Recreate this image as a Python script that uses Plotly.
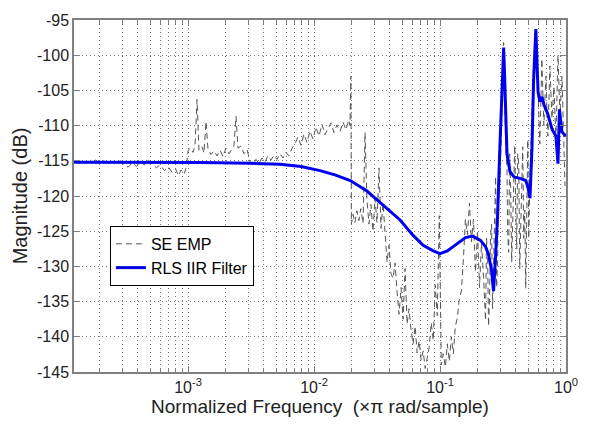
import plotly.graph_objects as go

# ---------------- data ----------------
# SE EMP (empirical secondary path estimate) - normalized frequency (x pi rad/sample)
se_freq = [
    1.25e-4, 1.35e-4, 1.45e-4, 1.55e-4, 1.70e-4, 1.85e-4, 2.00e-4, 2.15e-4, 2.30e-4, 2.50e-4,
    2.70e-4, 2.90e-4, 3.10e-4, 3.35e-4, 3.60e-4, 3.90e-4, 4.20e-4, 4.50e-4, 4.85e-4, 5.20e-4,
    5.60e-4, 6.00e-4, 6.50e-4, 7.00e-4, 7.50e-4, 8.00e-4, 8.40e-4, 8.80e-4, 9.30e-4, 9.70e-4,
    1.000e-3, 1.037e-3, 1.096e-3, 1.136e-3, 1.179e-3, 1.222e-3, 1.291e-3, 1.339e-3, 1.389e-3, 1.441e-3,
    1.523e-3, 1.608e-3, 1.699e-3, 1.795e-3, 1.896e-3, 2.000e-3, 2.115e-3, 2.234e-3, 2.317e-3, 2.403e-3,
    2.493e-3, 2.634e-3, 2.782e-3, 2.940e-3, 3.100e-3, 3.280e-3, 3.460e-3, 3.660e-3, 3.860e-3, 4.080e-3,
    4.310e-3, 4.550e-3, 4.810e-3, 5.080e-3, 5.370e-3, 5.670e-3, 5.990e-3, 6.330e-3, 6.690e-3, 7.060e-3,
    7.460e-3, 7.880e-3, 8.330e-3, 8.790e-3, 9.290e-3, 9.810e-3, 1.036e-2, 1.095e-2, 1.157e-2, 1.222e-2,
    1.290e-2, 1.363e-2, 1.440e-2, 1.520e-2, 1.610e-2, 1.700e-2, 1.790e-2, 1.890e-2, 1.930e-2, 1.960e-2,
    1.980e-2, 2.040e-2, 2.110e-2, 2.190e-2, 2.270e-2, 2.350e-2, 2.450e-2, 2.540e-2, 2.630e-2, 2.730e-2,
    2.830e-2, 2.940e-2, 3.050e-2, 3.160e-2, 3.280e-2, 3.400e-2, 3.530e-2, 3.660e-2, 3.800e-2, 3.940e-2,
    4.080e-2, 4.240e-2, 4.400e-2, 4.560e-2, 4.730e-2, 4.910e-2, 5.090e-2, 5.280e-2, 5.480e-2, 5.680e-2,
    5.900e-2, 6.120e-2, 6.350e-2, 6.580e-2, 6.830e-2, 7.090e-2, 7.350e-2, 7.630e-2, 7.910e-2, 8.210e-2,
    8.520e-2, 8.840e-2, 9.170e-2, 9.510e-2, 9.870e-2, 0.1024, 0.1062, 0.1102, 0.1143, 0.1186,
    0.1230, 0.1276, 0.1324, 0.1374, 0.1425, 0.1479, 0.1534, 0.1591, 0.1651, 0.1713,
    0.1777, 0.1843, 0.1912, 0.1984, 0.2058, 0.2135, 0.2215,
    0.2298, 0.2340, 0.2384, 0.2428, 0.2473, 0.2520, 0.2566, 0.2614, 0.2662, 0.2712,
    0.2762, 0.2813, 0.2865, 0.2918, 0.2972, 0.3084, 0.3199, 0.3319, 0.3400, 0.3443,
    0.3507, 0.3572, 0.3639, 0.3706, 0.3775, 0.3845, 0.3917, 0.3989, 0.4063, 0.4138,
    0.4215, 0.4293, 0.4373, 0.4454, 0.4537, 0.4620, 0.4706, 0.4793, 0.4883, 0.4973,
    0.5066, 0.5159,
    0.5352, 0.5553, 0.5761, 0.5977, 0.6200, 0.6433, 0.6674, 0.6924, 0.7183, 0.7452,
    0.7731, 0.8021, 0.8321, 0.8633, 0.8956, 0.9292, 0.9640, 0.9820,
]
se_mag = [
    -115.2, -115.0, -115.3, -115.1, -115.3, -114.9, -115.3, -115.0, -115.4, -115.1,
    -115.3, -115.0, -115.5, -115.9, -115.3, -115.8, -115.1, -115.6, -114.9, -115.5,
    -116.0, -115.6, -116.4, -115.9, -116.7, -116.2, -117.1, -116.3, -116.9, -115.9,
    -113.6, -113.2, -113.8, -112.9, -106.3, -113.5, -113.0, -113.9, -109.4, -113.4,
    -114.1, -113.6, -114.3, -113.5, -114.4, -113.2, -114.0, -113.3, -112.8, -108.7,
    -113.2, -112.9, -114.0, -113.4, -115.1, -115.6, -114.8, -115.4, -114.6, -115.2,
    -114.3, -114.9, -114.2, -114.8, -114.0, -114.6, -113.8, -114.3, -113.2, -112.6,
    -111.6, -112.8, -111.2, -112.4, -110.8, -111.9, -110.2, -111.5, -109.8, -111.3,
    -110.4, -109.6, -111.0, -109.9, -110.8, -109.5, -110.6, -109.2, -110.0, -103.0,
    -124.0, -122.6, -123.8, -122.1, -123.5, -121.8, -123.9, -111.0, -120.5, -124.0,
    -121.2, -125.0, -120.3, -123.8, -116.0, -124.6, -121.0, -125.3, -129.4, -127.0,
    -131.0, -131.7, -129.5, -133.5, -136.8, -133.0, -137.5, -130.3, -138.2, -136.0,
    -139.2, -141.0, -138.5, -142.3, -140.6, -143.3, -142.0, -144.5, -142.8, -141.5,
    -138.0, -140.5, -132.6, -137.0, -122.8, -144.0, -142.4, -144.3, -141.0, -143.5,
    -140.0, -142.4, -138.5, -137.3, -134.5, -133.5, -128.9, -123.3, -125.5, -121.0,
    -126.5, -123.3, -130.8, -125.0, -133.0, -126.6, -131.5,
    -137.7, -126.0, -128.0, -138.5, -134.5, -125.5, -124.0, -136.0, -130.5, -121.0,
    -117.2, -133.0, -129.8, -115.5, -119.0, -110.0, -98.2, -112.6, -116.0, -125.2,
    -128.0, -114.0, -119.0, -129.4, -124.5, -116.5, -112.8, -122.0, -127.5, -114.0,
    -115.5, -130.3, -124.0, -118.0, -113.0, -126.0, -122.0, -133.1, -117.0, -112.0,
    -126.0, -118.0,
    -109.0, -100.5, -96.2, -104.0, -112.6, -100.5, -110.0, -103.0, -111.5, -101.5,
    -109.0, -104.5, -112.0, -100.0, -108.5, -103.0, -113.0, -118.6,
]

# RLS IIR filter response
rls_freq = [
    1.245e-4, 5.0e-4, 1.25e-3, 3.1e-3, 5.37e-3, 7.88e-3, 1.115e-2, 1.466e-2, 1.94e-2, 2.63e-2,
    3.53e-2, 4.82e-2, 6.12e-2, 7.35e-2, 8.84e-2, 0.100, 0.1143, 0.1374, 0.1591, 0.1810,
    0.2096, 0.2298, 0.2428, 0.2566, 0.2662, 0.2762, 0.2865, 0.2973, 0.3084, 0.3199,
    0.3257, 0.3340, 0.3401, 0.3586, 0.3870, 0.4314, 0.4793, 0.4995, 0.5179, 0.5374,
    0.5520, 0.5761, 0.5890, 0.6000, 0.6200, 0.6450, 0.6680, 0.7183, 0.7744, 0.8321,
    0.8633, 0.8720, 0.8875, 0.9290, 0.9640, 1.000,
]
rls_mag = [
    -115.2, -115.2, -115.25, -115.35, -115.5, -115.8, -116.4, -117.0, -117.8, -119.3,
    -121.3, -123.4, -125.6, -127.0, -127.8, -128.2, -127.8, -126.7, -125.9, -125.7,
    -126.3, -127.2, -128.3, -130.6, -133.5, -128.5, -122.8, -114.0, -105.0, -98.9,
    -103.0, -110.5, -114.0, -116.5, -117.3, -117.5, -117.8, -118.8, -120.3, -113.0,
    -104.0, -96.3, -101.0, -105.2, -106.6, -105.9, -107.0, -108.4, -110.5, -111.5,
    -115.4, -110.0, -107.7, -110.9, -111.2, -111.5,
]

x_tick_vals = [1e-3, 1e-2, 1e-1, 1]
x_tick_text = ["10<sup>-3</sup>", "10<sup>-2</sup>", "10<sup>-1</sup>", "10<sup>0</sup>"]
x_minor_vals = [m * d for d in (1e-4, 1e-3, 1e-2, 1e-1) for m in range(2, 10)]
y_tick_vals = [-145, -140, -135, -130, -125, -120, -115, -110, -105, -100, -95]
y_tick_text = ["-145", "-140", "-135", "-130", "-125", "-120", "-115", "-110", "-105", "-100", "-95"]

# ---------------- figure ----------------
fig = go.Figure()
fig.add_trace(go.Scatter(
    x=se_freq, y=se_mag, mode="lines", name="SE EMP",
    line=dict(color="#555555", width=1, dash="6px,4px"),
))
fig.add_trace(go.Scatter(
    x=rls_freq, y=rls_mag, mode="lines", name="RLS IIR Filter",
    line=dict(color="#0000ee", width=3),
))

FONT = "Liberation Sans, Arial, sans-serif"
axis_font = dict(family=FONT, size=16, color="#222222")
grid_dash = "1px,3px"
fig.update_layout(
    width=596, height=427,
    margin=dict(l=74, r=30, t=14, b=55),
    paper_bgcolor="white", plot_bgcolor="white",
    font=dict(family=FONT, size=16, color="#222222"),
    showlegend=True,
    legend=dict(
        x=0.073, y=0.415, xanchor="left", yanchor="top",
        bgcolor="white", bordercolor="black", borderwidth=1,
        font=dict(family=FONT, size=16, color="black"),
    ),
    xaxis=dict(
        type="log", range=[-3.905, 0],
        tickvals=x_tick_vals, ticktext=x_tick_text,
        tickfont=axis_font,
        showgrid=True, gridcolor="#777777", griddash=grid_dash, gridwidth=1,
        minor=dict(tickvals=x_minor_vals, showgrid=True, gridcolor="#777777",
                   griddash=grid_dash, gridwidth=1,
                   ticks="inside", ticklen=4, tickcolor="#808080"),
        ticks="inside", ticklen=6, tickcolor="#808080",
        showline=True, linecolor="#808080", linewidth=1.5, mirror="ticks",
        zeroline=False,
        title=dict(text="Normalized Frequency  (×π rad/sample)",
                   font=dict(family=FONT, size=19, color="#222222"),
                   standoff=4),
    ),
    yaxis=dict(
        range=[-145, -95],
        tickvals=y_tick_vals, ticktext=y_tick_text,
        tickfont=axis_font,
        showgrid=True, gridcolor="#777777", griddash=grid_dash, gridwidth=1,
        ticks="inside", ticklen=6, tickcolor="#808080",
        showline=True, linecolor="#808080", linewidth=1.5, mirror="ticks",
        zeroline=False,
        title=dict(text="Magnitude (dB)",
                   font=dict(family=FONT, size=20, color="#222222"),
                   standoff=4),
    ),
)

fig.write_html("out.html")
